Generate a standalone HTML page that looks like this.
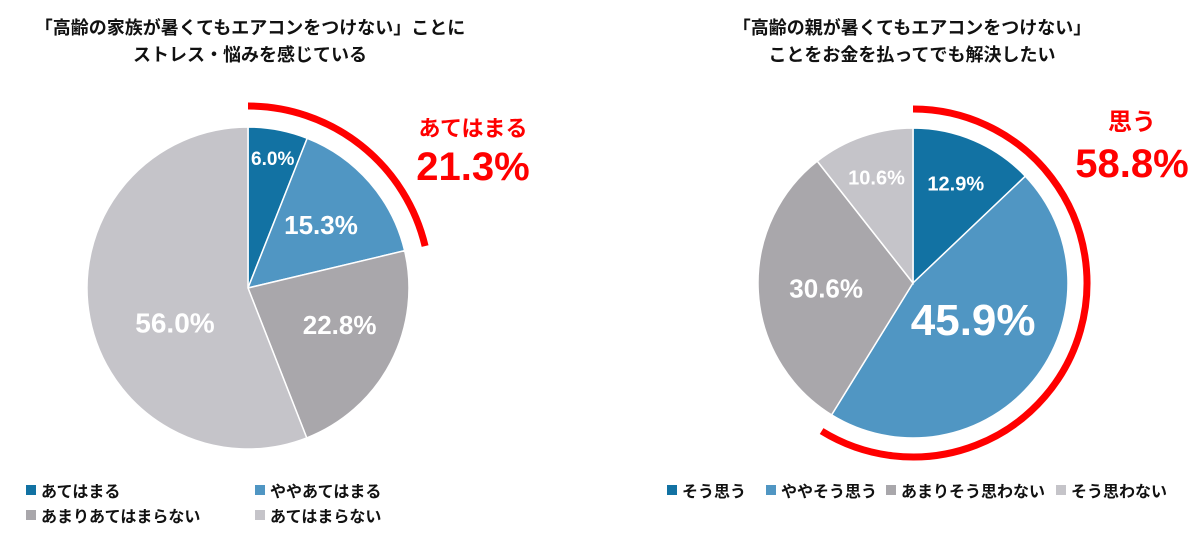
<!DOCTYPE html>
<html><head><meta charset="utf-8"><style>
body{margin:0;background:#fff;width:1200px;height:538px;overflow:hidden;font-family:"Liberation Sans","Noto Sans CJK JP",sans-serif}
</style></head><body>
<svg width="1200" height="538" viewBox="0 0 1200 538" xmlns="http://www.w3.org/2000/svg" font-family="Liberation Sans, Noto Sans CJK JP, sans-serif">
<g id="chart"></g>
</svg>
<script>
const leftLabels=["あてはまる","ややあてはまる","あまりあてはまらない","あてはまらない"];
const leftValues=[6.0,15.3,22.8,56.0];
const rightLabels=["そう思う","ややそう思う","あまりそう思わない","そう思わない"];
const rightValues=[12.9,45.9,30.6,10.6];
const colors=["#1272a3","#5096c3","#a9a7ab","#c5c4c9"];
const NS="http://www.w3.org/2000/svg";
const root=document.getElementById('chart');
function mk(tag,attrs,parent){const e=document.createElementNS(NS,tag);for(const k in attrs)e.setAttribute(k,attrs[k]);(parent||root).appendChild(e);return e;}
function pt(cx,cy,r,frac){const a=frac*2*Math.PI;return [cx+r*Math.sin(a),cy-r*Math.cos(a)];}
function arcPath(cx,cy,r,f0,f1){const p0=pt(cx,cy,r,f0),p1=pt(cx,cy,r,f1);const large=(f1-f0)>0.5?1:0;return `M${p0[0]},${p0[1]} A${r},${r} 0 ${large} 1 ${p1[0]},${p1[1]}`;}
function pie(cx,cy,r,vals,sizes,name,labelR,offs){
  const g=mk('g',{});
  
  
  const tot=vals.reduce((a,b)=>a+b,0);let acc=0;
  vals.forEach((v,i)=>{
    const f0=acc/tot,f1=(acc+v)/tot;acc+=v;
    const p0=pt(cx,cy,r,f0),p1=pt(cx,cy,r,f1);
    const d=`M${cx},${cy} L${p0[0]},${p0[1]} A${r},${r} 0 ${(f1-f0)>0.5?1:0} 1 ${p1[0]},${p1[1]} Z`;
    const s=mk('path',{d:d,fill:colors[i],stroke:'#fff','stroke-width':1.5},g);
    
    
    const lr=labelR[i]*r;const lp=pt(cx,cy,lr,(f0+f1)/2);
    const o=offs[i];
    const t=mk('text',{x:lp[0]+o[0],y:lp[1]+o[1]+sizes[i]*0.36,'text-anchor':'middle',fill:'#fff','font-size':sizes[i],'font-weight':'bold'},g);
    t.textContent=v.toFixed(1)+'%';
    
    
  });
}
pie(248,288,161,leftValues,[19,26,26,28],'left-pie',[0.82,0.6,0.6,0.55],[[0,0],[0,0],[6,-8],[14,18]]);
pie(913,283,155,rightValues,[20,44,26,20],'right-pie',[0.7,0.45,0.6,0.72],[[0,0],[6,-8],[6,0],[0,0]]);
const lsum=leftValues[0]+leftValues[1];
const a1=mk('path',{d:arcPath(248,288,182,0,lsum/100),fill:'none',stroke:'#f00','stroke-width':7});


const rsum=rightValues[0]+rightValues[1];
const a2=mk('path',{d:arcPath(913,283,174,0,rsum/100),fill:'none',stroke:'#f00','stroke-width':7});


function txt(x,y,s,size,fill,anchor,name,weight){const t=mk('text',{x:x,y:y,'font-size':size,fill:fill,'text-anchor':anchor||'start','font-weight':weight||'bold'});t.textContent=s;

return t;}
txt(250,34,'「高齢の家族が暑くてもエアコンをつけない」ことに',18,'#111','middle','left-title-line1');
txt(250,61,'ストレス・悩みを感じている',18,'#111','middle','left-title-line2');
txt(912,34,'「高齢の親が暑くてもエアコンをつけない」',18,'#111','middle','right-title-line1');
txt(912,61,'ことをお金を払ってでも解決したい',18,'#111','middle','right-title-line2');
txt(473,136,'あてはまる',22,'#f00','middle','left-highlight-label');
txt(473,180,lsum.toFixed(1)+'%',40,'#f00','middle','left-highlight-value');
txt(1132,130,'思う',24,'#f00','middle','right-highlight-label');
txt(1132,177,rsum.toFixed(1)+'%',40,'#f00','middle','right-highlight-value');
function legend(items,pos,name){items.forEach((s,i)=>{const [x,y]=pos[i];
  const r=mk('rect',{x:x,y:y-12,width:10,height:10,fill:colors[i]});
  
  
  txt(x+15,y,s,16,'#111','start',name+'-entry-'+(i+1));});}
legend(leftLabels,[[26,497],[255,497],[26,522],[255,522]],'left-legend');
legend(rightLabels,[[667,497],[766,497],[886,497],[1056,497]],'right-legend');
</script>
</body></html>
